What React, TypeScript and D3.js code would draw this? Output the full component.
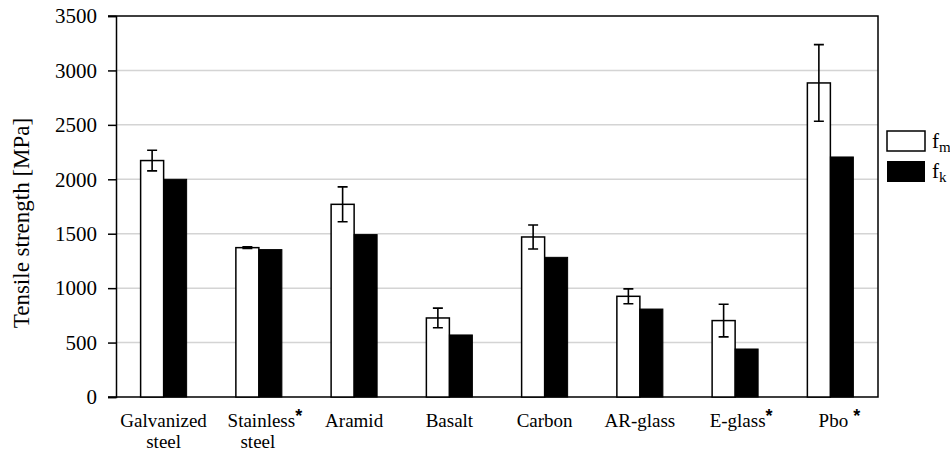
import React, { useEffect, useRef } from "react";
import * as d3 from "d3";

// Materials on the x axis (second line + asterisk handled when drawing labels)
const categories = ["Galvanized steel", "Stainless steel", "Aramid", "Basalt", "Carbon", "AR-glass", "E-glass", "Pbo"];
const line1 = ["Galvanized", "Stainless", "Aramid", "Basalt", "Carbon", "AR-glass", "E-glass", "Pbo"];
const line2 = ["steel", "steel", "", "", "", "", "", ""];
const starred = [false, true, false, false, false, false, true, true];

// Mean tensile strength f_m, its standard deviation, and characteristic strength f_k [MPa]
const fmValues = [2172, 1372, 1770, 726, 1470, 925, 702, 2885];
const fmErrors = [95, 8, 160, 90, 110, 68, 150, 352];
const fkValues = [2000, 1354, 1492, 570, 1283, 808, 441, 2205];

const yTicks = [0, 500, 1000, 1500, 2000, 2500, 3000, 3500];
const series = ["fm", "fk"];

const App = () => {
    const ref = useRef<SVGSVGElement | null>(null);

    useEffect(() => {
        const svg = d3.select(ref.current);
        svg.selectAll("*").remove();

        const left = 116;
        const right = 878;
        const top = 16;
        const bottom = 397;
        const font = "'Liberation Serif', 'Times New Roman', serif";

        const x0 = d3.scaleBand().domain(categories).range([left, right]);
        const bw = x0.bandwidth();
        const x1 = d3.scaleBand().domain(series).range([0, bw]).paddingInner(0).paddingOuter(1.07);
        const y = d3.scaleLinear().domain([0, 3500]).range([bottom, top]);

        // Gridlines
        svg.append("g")
            .selectAll("line")
            .data(yTicks.filter(t => t > 0 && t < 3500))
            .enter()
            .append("line")
            .attr("x1", left)
            .attr("x2", right)
            .attr("y1", d => y(d))
            .attr("y2", d => y(d))
            .attr("stroke", "#d4d4d4")
            .attr("stroke-width", 1.5);

        // Left axis with ticks pointing outward
        const yAxis = svg.append("g")
            .attr("transform", `translate(${left},0)`)
            .call(d3.axisLeft(y).tickValues(yTicks).tickSize(8).tickPadding(11).tickFormat(d3.format("d")))
            .attr("font-family", font)
            .attr("font-size", 21);
        yAxis.select(".domain").attr("stroke", "#000").attr("stroke-width", 1.5);
        yAxis.selectAll(".tick line").attr("stroke", "#000").attr("stroke-width", 1.5);
        yAxis.selectAll(".tick text")
            .attr("fill", "#000")
            .style("font-family", font)
            .style("font-size", "21px");

        // Frame: top, right, bottom
        svg.append("path")
            .attr("d", `M${left - 8},${top}H${right}V${bottom}H${left - 8}`)
            .attr("fill", "none")
            .attr("stroke", "#000")
            .attr("stroke-width", 1.5);

        // Bars
        const groups = svg.append("g")
            .selectAll("g")
            .data(categories)
            .enter()
            .append("g")
            .attr("transform", d => `translate(${x0(d)},0)`);

        groups.append("rect")
            .attr("x", x1("fm")!)
            .attr("y", (d, i) => y(fmValues[i]))
            .attr("width", x1.bandwidth())
            .attr("height", (d, i) => bottom - y(fmValues[i]))
            .attr("fill", "#fff")
            .attr("stroke", "#000")
            .attr("stroke-width", 1.5);

        groups.append("rect")
            .attr("x", x1("fk")!)
            .attr("y", (d, i) => y(fkValues[i]))
            .attr("width", x1.bandwidth())
            .attr("height", (d, i) => bottom - y(fkValues[i]))
            .attr("fill", "#000")
            .attr("stroke", "#000")
            .attr("stroke-width", 1);

        // Error bars on f_m
        const cx = x1("fm")! + x1.bandwidth() / 2;
        const capW = 5;
        groups.append("path")
            .attr("d", (d, i) => {
                const hi = y(fmValues[i] + fmErrors[i]);
                const lo = y(fmValues[i] - fmErrors[i]);
                return `M${cx},${hi}V${lo}M${cx - capW},${hi}H${cx + capW}M${cx - capW},${lo}H${cx + capW}`;
            })
            .attr("fill", "none")
            .attr("stroke", "#000")
            .attr("stroke-width", 1.6);

        // Category labels, starred ones shifted so the word stays centred
        categories.forEach((d, i) => {
            const mid = x0(d)! + bw / 2;
            const t = svg.append("text")
                .attr("x", mid + (starred[i] ? (i === 7 ? 9 : 6) : 0))
                .attr("y", 427)
                .attr("text-anchor", "middle")
                .style("font-family", font)
                .style("font-size", "19px")
                .attr("fill", "#000");
            t.append("tspan").text(line1[i]);
            if (starred[i]) {
                t.append("tspan")
                    .attr("dy", -5)
                    .attr("dx", i === 7 ? 5 : 0)
                    .style("font-weight", "bold")
                    .style("font-family", "'Liberation Sans', Arial, sans-serif")
                    .style("font-size", "18px")
                    .text("*");
            }
            if (line2[i]) {
                svg.append("text")
                    .attr("x", mid + (starred[i] ? -1 : 0))
                    .attr("y", 448)
                    .attr("text-anchor", "middle")
                    .style("font-family", font)
                    .style("font-size", "19px")
                    .attr("fill", "#000")
                    .text(line2[i]);
            }
        });

        // Y axis title
        svg.append("text")
            .attr("transform", `translate(29,223) rotate(-90)`)
            .attr("text-anchor", "middle")
            .style("font-family", font)
            .style("font-size", "23px")
            .attr("fill", "#000")
            .text("Tensile strength [MPa]");

        // Legend
        const legend = svg.append("g").attr("transform", "translate(887,131)");
        legend.append("rect")
            .attr("width", 38).attr("height", 20)
            .attr("fill", "#fff").attr("stroke", "#000").attr("stroke-width", 1.5);
        legend.append("rect")
            .attr("y", 30).attr("width", 38).attr("height", 21)
            .attr("fill", "#000");
        const legendLabels = [["f", "m"], ["f", "k"]];
        legendLabels.forEach((l, i) => {
            const t = legend.append("text")
                .attr("x", 45)
                .attr("y", 17 + i * 30)
                .style("font-family", font)
                .style("font-size", "21px")
                .attr("fill", "#000");
            t.append("tspan").text(l[0]);
            t.append("tspan").attr("dy", 4).style("font-size", "15px").text(l[1]);
        });
    }, []);

    return (
        <div style={{ position: "absolute", left: 0, top: 0 }}>
            <svg ref={ref} width={950} height={451} style={{ display: "block", background: "#fff" }} />
        </div>
    );
};

export default App;
